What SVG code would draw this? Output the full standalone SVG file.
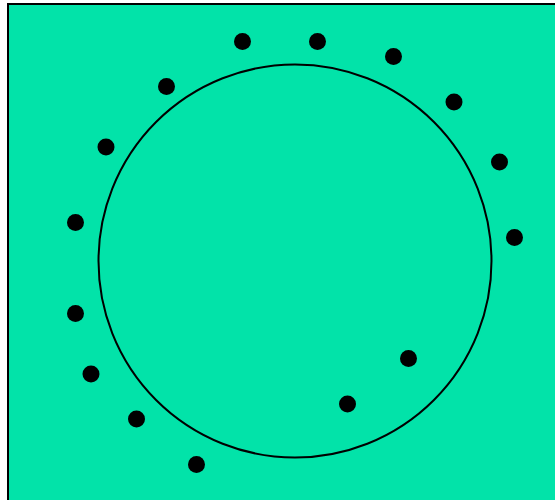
<svg xmlns="http://www.w3.org/2000/svg" width="555" height="500" viewBox="0 0 555 500">
<style>
.bg{fill:#02E3A9;stroke:#000;stroke-width:2}
.ring{fill:none;stroke:#000;stroke-width:2}
.dot{fill:#000}
</style>
<rect width="555" height="500" fill="#fff"/>
<rect class="bg" x="8" y="4" width="560" height="510"/>
<g id="ring"><circle class="ring" cx="295" cy="261" r="196.5"/></g>
<g id="dots">
<circle class="dot" cx="242.5" cy="41.5" r="8.5"/>
<circle class="dot" cx="317.5" cy="41.5" r="8.5"/>
<circle class="dot" cx="393.5" cy="56.5" r="8.5"/>
<circle class="dot" cx="454" cy="102" r="8.5"/>
<circle class="dot" cx="499.5" cy="162" r="8.5"/>
<circle class="dot" cx="514.5" cy="237.5" r="8.5"/>
<circle class="dot" cx="408.5" cy="358.5" r="8.5"/>
<circle class="dot" cx="347.5" cy="404" r="8.5"/>
<circle class="dot" cx="196.5" cy="464.5" r="8.5"/>
<circle class="dot" cx="136.5" cy="419" r="8.5"/>
<circle class="dot" cx="91" cy="374" r="8.5"/>
<circle class="dot" cx="75.5" cy="313.5" r="8.5"/>
<circle class="dot" cx="75.5" cy="222.5" r="8.5"/>
<circle class="dot" cx="106" cy="147" r="8.5"/>
<circle class="dot" cx="166.5" cy="86.5" r="8.5"/>
</g>
</svg>
